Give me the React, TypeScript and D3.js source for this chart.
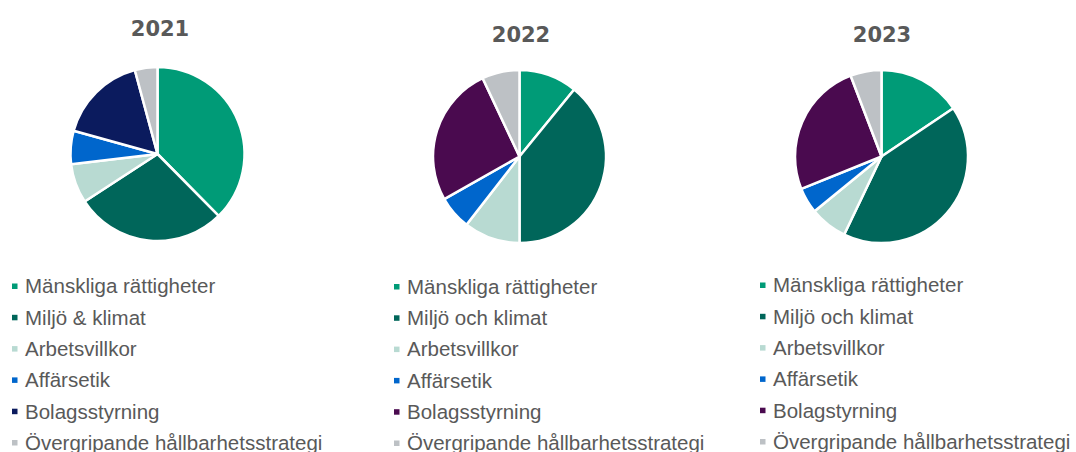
import * as d3 from 'd3';

// shares (%) per year, clockwise from 12 o'clock
const years = ['2021', '2022', '2023'];
const labels2021 = ['Mänskliga rättigheter', 'Miljö & klimat', 'Arbetsvillkor', 'Affärsetik', 'Bolagsstyrning', 'Övergripande hållbarhetsstrategi'];
const labels2022 = ['Mänskliga rättigheter', 'Miljö och klimat', 'Arbetsvillkor', 'Affärsetik', 'Bolagsstyrning', 'Övergripande hållbarhetsstrategi'];
const labels2023 = ['Mänskliga rättigheter', 'Miljö och klimat', 'Arbetsvillkor', 'Affärsetik', 'Bolagstyrning', 'Övergripande hållbarhetsstrategi'];
const values2021 = [37.6, 28.2, 7.3, 6.2, 16.5, 4.2];
const values2022 = [10.9, 39.1, 10.5, 6.3, 26.2, 7.0];
const values2023 = [15.6, 41.5, 7.0, 4.8, 25.3, 5.8];
const colors2021 = ['#009b77', '#00665a', '#b8dad2', '#0066cc', '#0b1b5e', '#bdc1c5'];
const colors2022 = ['#009b77', '#00665a', '#b8dad2', '#0066cc', '#4a0a4f', '#bdc1c5'];

const W = 1076;
const H = 452;

const panels = [
  { year: years[0], values: values2021, labels: labels2021, colors: colors2021, cx: 157.5, cy: 154, r: 87, titleY: 36, titleX: 160, legendX: 12, legendY0: 286 },
  { year: years[1], values: values2022, labels: labels2022, colors: colors2022, cx: 519.5, cy: 156.5, r: 86.5, titleY: 42, titleX: 521, legendX: 394, legendY0: 286.5 },
  { year: years[2], values: values2023, labels: labels2023, colors: colors2022, cx: 881.5, cy: 156.5, r: 86.5, titleY: 42, titleX: 882, legendX: 760, legendY0: 285 },
];

const pie = d3.pie<number>().sort(null).value(d => d);

function Panel({ p }: { p: (typeof panels)[number] }) {
  const arcs = pie(p.values);
  const arc = d3.arc<d3.PieArcDatum<number>>().innerRadius(0).outerRadius(p.r);
  const rowY = d3.scaleLinear().domain([0, 1]).range([p.legendY0, p.legendY0 + 31.3]);
  return (
    <g>
      <text
        x={p.titleX}
        y={p.titleY}
        textAnchor="middle"
        fontFamily="'DejaVu Sans', sans-serif"
        fontWeight="bold"
        fontSize={21}
        fill="#595959"
      >
        {p.year}
      </text>
      <g transform={`translate(${p.cx},${p.cy})`}>
        {arcs.map((a, i) => (
          <path key={i} d={arc(a) ?? ''} fill={p.colors[i]} stroke="#fff" strokeWidth={2.5} strokeLinejoin="round" />
        ))}
      </g>
      <g>
        {p.labels.map((l, i) => (
          <g key={l} transform={`translate(${p.legendX},${rowY(i)})`}>
            <rect x={0} y={-2.5} width={5.5} height={5.5} fill={p.colors[i]} />
            <text
              x={13}
              y={0}
              dy="0.36em"
              fontFamily="'Liberation Sans', Arial, sans-serif"
              fontSize={20.5}
              fill="#595959"
            >
              {l}
            </text>
          </g>
        ))}
      </g>
    </g>
  );
}

export default function App() {
  return (
    <div style={{ position: 'absolute', left: 0, top: 0 }}>
      <svg width={W} height={H} style={{ display: 'block', background: '#fff' }}>
        {panels.map(p => (
          <Panel key={p.year} p={p} />
        ))}
      </svg>
    </div>
  );
}
